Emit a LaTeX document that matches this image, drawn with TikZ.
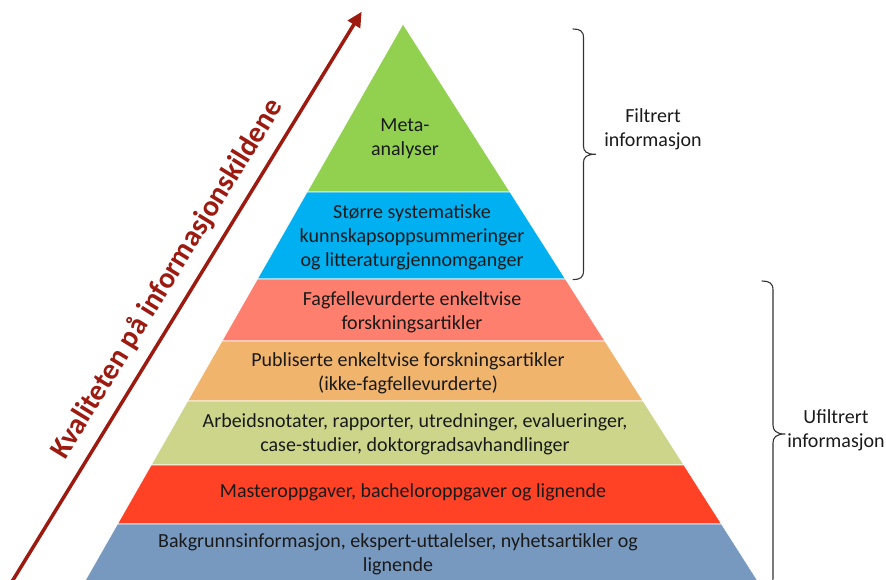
\documentclass[tikz,border=0pt]{standalone}
\usepackage{fontspec}
\setmainfont{Carlito}
\usetikzlibrary{arrows.meta}
\definecolor{cgreen}{HTML}{92D050}
\definecolor{cblue}{HTML}{00B0F0}
\definecolor{csalmon}{HTML}{FF7F6E}
\definecolor{corange}{HTML}{F0B46C}
\definecolor{colive}{HTML}{CDD58B}
\definecolor{cred}{HTML}{FF4125}
\definecolor{csteel}{HTML}{7899BF}
\definecolor{darrow}{HTML}{9C1A0F}
\definecolor{txt}{HTML}{1A1A1A}
\definecolor{bracec}{HTML}{333333}
\begin{document}
\begin{tikzpicture}[x=1pt,y=-1pt,
  band/.style={draw=white, line width=0.6pt},
  lbl/.style={font=\fontsize{20}{24}\selectfont, align=center, text=txt, inner sep=0pt},
  bracestyle/.style={draw=bracec, line width=1.1pt, line join=round, line cap=round},
  quality/.style={font=\fontsize{29.5}{34}\selectfont\bfseries, text=darrow, inner sep=0pt}]
\useasboundingbox (0,0) rectangle (886,580);
\clip (0,0) rectangle (886,580);
% pyramid bands
\filldraw[band, fill=cgreen] (403,24) -- (510,192) -- (307.1,192) -- cycle;
\filldraw[band, fill=cblue] (307.1,192) -- (510,192) -- (565.4,279) -- (257.4,279) -- cycle;
\filldraw[band, fill=csalmon] (257.4,279) -- (565.4,279) -- (604.9,341) -- (222,341) -- cycle;
\filldraw[band, fill=corange] (222,341) -- (604.9,341) -- (643.1,401) -- (187.7,401) -- cycle;
\filldraw[band, fill=colive] (187.7,401) -- (643.1,401) -- (683.9,465) -- (151.2,465) -- cycle;
\filldraw[band, fill=cred] (151.2,465) -- (683.9,465) -- (721.5,524) -- (117.5,524) -- cycle;
\filldraw[band, fill=csteel] (117.5,524) -- (721.5,524) -- (769.9,600) -- (74.1,600) -- cycle;
% band texts
\node[lbl] (meta) at (405,139) {Meta-\\analyser};
\node[lbl] (storre) at (412,237) {Større systematiske\\kunnskapsoppsummeringer\\og litteraturgjennomganger};
\node[lbl] (fagf) at (412,312) {Fagfellevurderte enkeltvise\\forskningsartikler};
\node[lbl] (publ) at (408,373) {Publiserte enkeltvise forskningsartikler\\(ikke-fagfellevurderte)};
\node[lbl] (arb) at (415,434) {Arbeidsnotater, rapporter, utredninger, evalueringer,\\case-studier, doktorgradsavhandlinger};
\node[lbl] (master) at (413,492) {Masteroppgaver, bacheloroppgaver og lignende};
\node[lbl] (bakg) at (398,554) {Bakgrunnsinformasjon, ekspert-uttalelser, nyhetsartikler og\\lignende};
% braces
\draw[bracestyle] (573,29) .. controls (580,29) and (583.5,31) .. (583.5,38) -- (583.5,146)
  .. controls (583.5,151) and (586,154.3) .. (595.5,154.3)
  .. controls (586,154.3) and (583.5,157.6) .. (583.5,162.6) -- (583.5,270.6)
  .. controls (583.5,277.6) and (580,279.6) .. (573,279.6);
\draw[bracestyle] (762,281) .. controls (769,281) and (773,283) .. (773,290) -- (773,425)
  .. controls (773,430) and (775.5,434) .. (785,434)
  .. controls (775.5,434) and (773,438) .. (773,443) -- (773,578)
  .. controls (773,585) and (769,587) .. (762,587);
\node[lbl] (filt) at (653,129.5) {Filtrert\\informasjon};
\node[lbl] (ufilt) at (836,430.5) {Ufiltrert\\informasjon};
% quality arrow
\coordinate (arrowstart) at (0.7,600);
\coordinate (arrowend) at (361.7,11.7);
\draw[darrow, line width=3.5pt, -{Triangle[length=15pt,width=14pt]}] (arrowstart) -- (arrowend);
\node[quality, rotate=58.4, anchor=base] (qual) at (174.2,283.4) {Kvaliteten på informasjonskildene};
\end{tikzpicture}
\end{document}
